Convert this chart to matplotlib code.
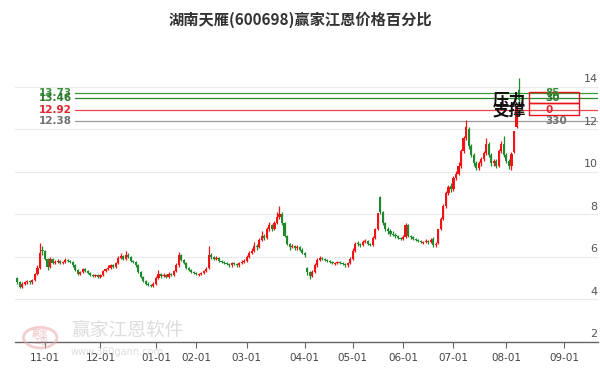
import matplotlib
matplotlib.use("Agg")
import matplotlib.pyplot as plt
from matplotlib.patches import Rectangle, Circle
import pandas as pd
import numpy as np

plt.rcParams['font.family'] = ['Noto Sans CJK SC', 'DejaVu Sans']

title = "湖南天雁(600698)赢家江恩价格百分比"

# trading calendar (Shanghai exchange, Oct 2022 - Sep 2023)
holidays = ["2023-01-02", "2023-01-23", "2023-01-24", "2023-01-25", "2023-01-26",
            "2023-01-27", "2023-04-05", "2023-05-01", "2023-05-02", "2023-05-03",
            "2023-06-22", "2023-06-23"]
all_days = pd.bdate_range("2022-10-17", "2023-09-22")
trade_days = all_days[~all_days.isin(pd.to_datetime(holidays))]

opens = [5.00, 4.80, 4.60, 4.75, 4.80, 4.85, 4.80, 4.90, 5.20, 5.50,
         6.35, 6.30, 5.90, 5.55, 5.90, 5.70, 5.75, 5.80, 5.70, 5.75,
         5.85, 5.80, 5.75, 5.60, 5.40, 5.20, 5.30, 5.45, 5.35, 5.25,
         5.15, 5.10, 5.15, 5.05, 5.15, 5.35, 5.45, 5.50, 5.60, 5.55,
         5.70, 5.95, 6.05, 5.90, 6.10, 6.00, 5.80, 5.75, 5.60, 5.30,
         5.05, 4.85, 4.75, 4.70, 4.65, 4.75, 5.00, 5.20, 5.10, 5.15,
         5.05, 5.20, 5.15, 5.35, 5.60, 6.10, 5.85, 5.70, 5.50, 5.40,
         5.30, 5.25, 5.15, 5.20, 5.25, 5.35, 5.50, 6.10, 6.00, 5.90,
         5.95, 5.80, 5.75, 5.70, 5.65, 5.60, 5.70, 5.65, 5.60, 5.70,
         5.75, 5.80, 6.00, 6.20, 6.30, 6.50, 6.45, 6.80, 7.00, 6.90,
         7.30, 7.50, 7.30, 7.60, 7.90, 8.00, 7.60, 7.00, 6.60, 6.45,
         6.50, 6.40, 6.45, 6.35, 6.20, 5.50, 5.30, 5.10, 5.30, 5.60,
         5.85, 5.95, 5.90, 5.85, 5.80, 5.75, 5.65, 5.70, 5.75, 5.70,
         5.65, 5.60, 5.70, 5.90, 6.30, 6.65, 6.60, 6.55, 6.70, 6.75,
         6.60, 6.55, 6.90, 7.30, 8.80, 8.10, 7.60, 7.30, 7.20, 7.10,
         7.05, 7.00, 6.90, 6.85, 6.95, 7.50, 7.00, 6.95, 6.85, 6.80,
         6.75, 6.65, 6.70, 6.75, 6.70, 6.85, 6.55, 6.65, 7.30, 7.80,
         8.40, 9.00, 9.35, 9.20, 9.70, 9.90, 10.30, 11.00, 11.60, 12.00,
         11.20, 10.80, 10.40, 10.20, 10.40, 10.60, 10.90, 11.30, 10.80, 10.40,
         10.50, 10.30, 11.00, 11.30, 10.80, 10.50, 10.30, 10.95, 12.10, 13.85]

highs = [5.05, 4.85, 4.80, 4.85, 4.90, 4.90, 4.95, 5.25, 5.60, 6.65,
         6.50, 6.35, 5.95, 6.00, 5.95, 5.85, 5.90, 5.85, 5.80, 5.95,
         5.90, 5.85, 5.80, 5.65, 5.45, 5.35, 5.50, 5.50, 5.40, 5.30,
         5.20, 5.20, 5.20, 5.20, 5.40, 5.50, 5.60, 5.65, 5.65, 5.75,
         6.05, 6.20, 6.10, 6.30, 6.20, 6.05, 5.85, 5.80, 5.65, 5.35,
         5.10, 4.90, 4.80, 4.75, 4.80, 5.10, 5.40, 5.25, 5.25, 5.20,
         5.30, 5.25, 5.40, 5.70, 6.25, 6.15, 5.90, 5.75, 5.55, 5.45,
         5.35, 5.30, 5.25, 5.30, 5.40, 5.55, 6.50, 6.20, 6.05, 6.05,
         6.00, 5.85, 5.80, 5.75, 5.70, 5.75, 5.75, 5.70, 5.75, 5.85,
         5.90, 6.10, 6.30, 6.40, 6.70, 6.60, 6.90, 7.20, 7.10, 7.40,
         7.65, 7.55, 7.70, 8.10, 8.40, 8.10, 7.65, 7.05, 6.65, 6.60,
         6.55, 6.55, 6.50, 6.40, 6.25, 5.55, 5.35, 5.40, 5.70, 5.95,
         6.05, 6.00, 5.95, 5.90, 5.85, 5.80, 5.75, 5.80, 5.80, 5.75,
         5.70, 5.75, 6.00, 6.40, 6.70, 6.75, 6.65, 6.80, 6.85, 6.80,
         6.65, 7.00, 7.35, 8.05, 8.85, 8.15, 7.65, 7.40, 7.30, 7.20,
         7.15, 7.05, 6.95, 7.05, 7.60, 7.55, 7.05, 7.00, 6.90, 6.85,
         6.80, 6.75, 6.85, 6.80, 6.90, 6.95, 6.70, 7.30, 7.90, 8.50,
         9.10, 9.40, 9.50, 9.80, 10.05, 10.45, 11.10, 11.70, 12.45, 12.10,
         11.30, 10.90, 10.50, 10.50, 10.70, 11.00, 11.60, 11.40, 10.90, 10.60,
         10.60, 11.10, 11.45, 11.70, 10.90, 10.60, 10.95, 11.95, 13.15, 14.42]

lows = [4.75, 4.55, 4.55, 4.70, 4.75, 4.75, 4.75, 4.85, 5.15, 5.45,
        6.10, 5.85, 5.40, 5.50, 5.65, 5.65, 5.70, 5.65, 5.65, 5.70,
        5.75, 5.70, 5.55, 5.35, 5.15, 5.15, 5.25, 5.30, 5.20, 5.10,
        5.05, 5.05, 5.00, 5.00, 5.10, 5.30, 5.40, 5.45, 5.50, 5.50,
        5.65, 5.90, 5.85, 5.85, 5.95, 5.75, 5.70, 5.55, 5.25, 5.00,
        4.80, 4.70, 4.62, 4.58, 4.60, 4.70, 4.95, 5.00, 5.05, 5.00,
        5.00, 5.10, 5.10, 5.30, 5.55, 5.80, 5.65, 5.45, 5.35, 5.25,
        5.20, 5.15, 5.10, 5.15, 5.20, 5.30, 5.45, 5.90, 5.85, 5.85,
        5.75, 5.70, 5.65, 5.60, 5.55, 5.55, 5.60, 5.55, 5.55, 5.65,
        5.70, 5.75, 5.95, 6.15, 6.25, 6.35, 6.40, 6.75, 6.80, 6.85,
        7.20, 7.20, 7.25, 7.55, 7.80, 7.50, 6.95, 6.55, 6.35, 6.40,
        6.35, 6.35, 6.30, 6.15, 6.00, 5.15, 4.95, 5.05, 5.25, 5.55,
        5.80, 5.85, 5.80, 5.75, 5.70, 5.65, 5.60, 5.65, 5.65, 5.60,
        5.55, 5.55, 5.65, 5.85, 6.25, 6.50, 6.45, 6.50, 6.65, 6.55,
        6.50, 6.50, 6.85, 7.25, 8.00, 7.50, 7.20, 7.10, 7.00, 7.00,
        6.90, 6.85, 6.80, 6.80, 6.90, 6.95, 6.85, 6.80, 6.75, 6.70,
        6.65, 6.60, 6.65, 6.60, 6.65, 6.45, 6.45, 6.60, 7.25, 7.75,
        8.30, 8.90, 9.05, 9.10, 9.60, 9.85, 10.20, 10.90, 11.50, 11.10,
        10.70, 10.30, 10.10, 10.10, 10.30, 10.50, 10.80, 10.70, 10.30, 10.30,
        10.20, 10.25, 10.90, 10.70, 10.40, 10.15, 10.10, 10.90, 12.05, 13.30]

closes = [4.80, 4.60, 4.75, 4.80, 4.85, 4.80, 4.90, 5.20, 5.50, 6.20,
          6.30, 5.90, 5.55, 5.90, 5.70, 5.75, 5.80, 5.70, 5.75, 5.85,
          5.80, 5.75, 5.60, 5.40, 5.20, 5.30, 5.45, 5.35, 5.25, 5.15,
          5.10, 5.15, 5.05, 5.15, 5.35, 5.45, 5.50, 5.60, 5.55, 5.70,
          5.95, 6.05, 5.90, 6.10, 6.00, 5.80, 5.75, 5.60, 5.30, 5.05,
          4.85, 4.75, 4.70, 4.65, 4.75, 5.00, 5.20, 5.10, 5.15, 5.05,
          5.20, 5.15, 5.35, 5.60, 6.10, 5.85, 5.70, 5.50, 5.40, 5.30,
          5.25, 5.20, 5.20, 5.25, 5.35, 5.45, 6.10, 6.00, 5.90, 5.95,
          5.80, 5.75, 5.70, 5.65, 5.60, 5.70, 5.65, 5.60, 5.70, 5.75,
          5.80, 6.00, 6.20, 6.30, 6.50, 6.45, 6.80, 7.00, 6.90, 7.30,
          7.50, 7.30, 7.60, 7.90, 8.00, 7.60, 7.00, 6.60, 6.45, 6.50,
          6.40, 6.45, 6.35, 6.20, 6.10, 5.30, 5.10, 5.30, 5.60, 5.85,
          5.95, 5.90, 5.85, 5.80, 5.75, 5.70, 5.70, 5.75, 5.70, 5.65,
          5.60, 5.70, 5.90, 6.30, 6.60, 6.60, 6.55, 6.70, 6.75, 6.60,
          6.55, 6.90, 7.30, 8.05, 8.10, 7.60, 7.30, 7.20, 7.10, 7.05,
          7.00, 6.90, 6.85, 6.95, 7.50, 7.00, 6.95, 6.85, 6.80, 6.75,
          6.70, 6.70, 6.75, 6.70, 6.80, 6.55, 6.60, 7.30, 7.80, 8.40,
          9.00, 9.30, 9.20, 9.70, 9.90, 10.30, 11.00, 11.60, 12.10, 11.20,
          10.80, 10.40, 10.20, 10.40, 10.60, 10.90, 11.30, 10.80, 10.40, 10.50,
          10.30, 11.00, 11.30, 10.80, 10.50, 10.30, 10.85, 11.95, 13.10, 13.40]

# Gann percentage levels
level_prices = [13.73, 13.46, 12.92, 12.38]
level_labels = ["13.73", "13.46", "12.92", "12.38"]
level_tags = ["85", "30", "0", "330"]
level_colors = ["#3a9a3a", "#2f8a2f", "#e8474c", "#9a9a9a"]
level_text_colors = ["#3a8f3a", "#2a7a2a", "#e0262c", "#707070"]

yticks = [2, 4, 6, 8, 10, 12, 14]
month_labels = ["11-01", "12-01", "01-01", "02-01", "03-01", "04-01",
                "05-01", "06-01", "07-01", "08-01", "09-01"]

UP = "#f01414"
DOWN = "#1f8a2c"

fig = plt.figure(figsize=(6, 3.71), dpi=100)
ax = fig.add_axes([0.025, 0.0782, 0.972, 0.7446])
ax.set_xlim(-0.9, 230.4)
ax.set_ylim(2, 15)

# grid lines
for v in yticks:
    ax.axhline(v, color="#ebebeb", lw=0.8, zorder=0)
    ax.text(0.999, v + 0.12, str(v), transform=ax.get_yaxis_transform(),
            ha="right", va="bottom", fontsize=8, color="#555555",
            family=["DejaVu Sans"])

# candles
x = np.arange(len(closes))
o = np.array(opens); c = np.array(closes); h = np.array(highs); l = np.array(lows)
up = c >= o
cols = np.where(up, UP, DOWN)
ax.vlines(x, l, h, colors=cols, lw=0.9, zorder=3)
body_bottom = np.minimum(o, c)
body_h = np.maximum(np.abs(c - o), 0.04)
ax.bar(x, body_h, bottom=body_bottom, width=0.85, color=cols, linewidth=0, zorder=4)

# level lines
for p, lab, tag, lc, tc in zip(level_prices, level_labels, level_tags,
                                level_colors, level_text_colors):
    ax.plot([0.103, 1.0], [p, p], transform=ax.get_yaxis_transform(),
            color=lc, lw=0.9, zorder=2)
    ax.text(0.098, p, lab, transform=ax.get_yaxis_transform(), ha="right",
            va="center", fontsize=7.5, fontweight="bold", color=tc,
            family=["DejaVu Sans"])
    ax.text(0.91, p, tag, transform=ax.get_yaxis_transform(), ha="left",
            va="center", fontsize=7.5, fontweight="bold", color=tc,
            family=["DejaVu Sans"], zorder=6)

# boxes
for (y0, y1) in [(13.25, 13.76), (12.68, 13.25)]:
    ax.add_patch(Rectangle((0.882, y0), 0.085, y1 - y0,
                           transform=ax.get_yaxis_transform(),
                           fill=False, edgecolor="#e8141b", lw=1.0, zorder=5))

ax.text(0.847, 13.39, "压力", transform=ax.get_yaxis_transform(), ha="center",
        va="center", fontsize=12, fontweight="bold", color="#111111", zorder=7)
ax.text(0.847, 12.90, "支撑", transform=ax.get_yaxis_transform(), ha="center",
        va="center", fontsize=12, fontweight="bold", color="#111111", zorder=7)

# x axis
month_pos = []
for lab in month_labels:
    mm = int(lab[:2])
    idx = [i for i, d in enumerate(trade_days) if d.month == mm and d.day <= 10
           and (d.year == 2022 if mm >= 10 else d.year == 2023)]
    month_pos.append(idx[0])
ax.set_xticks(month_pos)
ax.set_xticklabels(month_labels, fontsize=7.5, color="#444444",
                   family=["DejaVu Sans"])
ax.tick_params(axis="x", length=4, width=0.8, color="#666666", pad=4)
ax.set_yticks([])
for s in ["top", "left", "right"]:
    ax.spines[s].set_visible(False)
ax.spines["bottom"].set_color("#666666")
ax.spines["bottom"].set_linewidth(1.0)

fig.text(0.5, 0.946, title, ha="center", va="center", fontsize=11,
         fontweight="bold", color="#333333")

# watermark
fig.patches.append(Circle((0.067, 0.09), 0.045 * 371 / 600, transform=fig.transFigure,
                          fill=False, edgecolor="#e8b0b0", lw=2, alpha=0.6))
fig.text(0.067, 0.09, "赢家\n江恩", ha="center", va="center", fontsize=6,
         color="#e0a0a0", alpha=0.6, linespacing=0.9)
fig.text(0.118, 0.11, "赢家江恩软件", ha="left", va="center", fontsize=13.5,
         color="#bbbbbb", alpha=0.5)
fig.text(0.118, 0.05, "www.360gann.com", ha="left", va="center", fontsize=7,
         color="#bbbbbb", alpha=0.5, family=["DejaVu Sans"])

fig.savefig("out.png", dpi=100)
